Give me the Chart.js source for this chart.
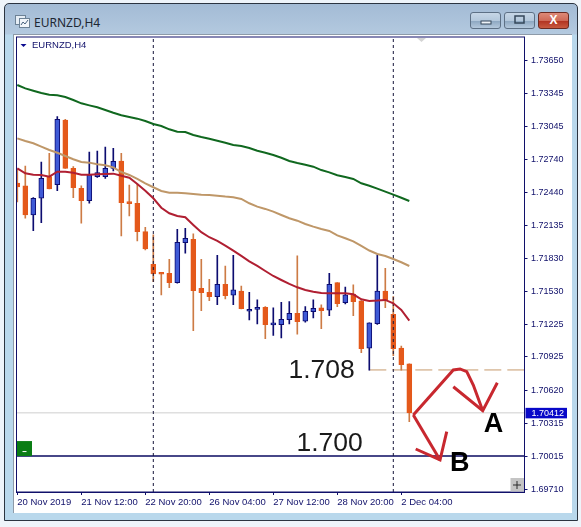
<!DOCTYPE html>
<html>
<head>
<meta charset="utf-8">
<title>EURNZD,H4</title>
<script src="https://cdn.jsdelivr.net/npm/chart.js@4"></script>
<style>
  html, body { margin: 0; padding: 0; background: #eef4fa; }
  #page { position: relative; width: 581px; height: 527px; overflow: hidden; font-family: "Liberation Sans", sans-serif; }
  #window { position: absolute; left: 4px; top: 3px; width: 574px; height: 518px; box-sizing: border-box; border: 1px solid #2b3440; border-radius: 5px 5px 0 0; background: linear-gradient(#a3bbd5 0, #b3c9df 30px, #b9d8ec 31px, #b9d8ec 100%); }
  #client { position: absolute; left: 13px; top: 34px; width: 559px; height: 479px; background: #fff; border-left: 1px solid #8d9aa8; border-top: 1px solid #8d9aa8; box-sizing: border-box; }
  #titletext { position: absolute; left: 34px; top: 14px; font: 12px "Noto Sans", sans-serif; color: #1d2733; }
  #icon { position: absolute; left: 15px; top: 15px; }
  .winbtn { position: absolute; top: 12px; height: 17px; width: 31px; box-sizing: border-box; border: 1px solid #5d7085; border-radius: 3px; background: linear-gradient(#c6d6e6 0, #b4c8dc 50%, #8ea8c2 55%, #b4c8dc 100%); text-align: center; }
  #btnclose { background: linear-gradient(#dd8a78 0, #cf6a58 50%, #b23422 55%, #c85a40 100%); border-color: #6a2a22; color: #fff; font: bold 12px/15px "Liberation Sans", sans-serif; }
  canvas { position: absolute; left: 0; top: 0; }
</style>
</head>
<body>
<div id="page">
  <div id="window"></div>
  <div id="client"></div>
  <svg id="icon" width="15" height="13"><rect x="0.5" y="0.5" width="10" height="9" fill="#e6eef6" stroke="#6d8296"/><rect x="4.5" y="3.5" width="10" height="9" fill="#f2f6fa" stroke="#6d8296"/><path d="M6 10l2-3 2 2 3-4" fill="none" stroke="#4a6480"/></svg>
  <div id="titletext">EURNZD,H4</div>
  <div class="winbtn" style="left:470px"><svg width="29" height="15"><rect x="10" y="8" width="10" height="3" fill="#eef3f8" stroke="#35475a"/></svg></div>
  <div class="winbtn" style="left:504px"><svg width="29" height="15"><rect x="10" y="3" width="9" height="7" fill="none" stroke="#35475a" stroke-width="1.5"/></svg></div>
  <div class="winbtn" id="btnclose" style="left:538px">X</div>
  <canvas id="myChart" width="581" height="527"></canvas>
</div>
<script>
const NAVY = '#10106a';
const TICK_LABELS = ['20 Nov 2019', '21 Nov 12:00', '22 Nov 20:00', '26 Nov 04:00', '27 Nov 12:00', '28 Nov 20:00', '2 Dec 04:00'];
const TICK_BARS = [0, 8, 16, 24, 32, 40, 48];
const PRICE_TICKS = [1.7365, 1.73345, 1.73045, 1.7274, 1.7244, 1.72135, 1.7183, 1.7153, 1.71225, 1.70925, 1.7062, 1.70315, 1.70015, 1.6971];

const opens = [1.72523, 1.72496, 1.72229, 1.72383, 1.72581, 1.72507, 1.73101, 1.72658, 1.72474, 1.72361,
  1.72581, 1.72581, 1.72658, 1.72725, 1.72349, 1.72337, 1.72076, 1.71777, 1.71697, 1.71694,
  1.71608, 1.71975, 1.72006, 1.71556, 1.7152, 1.71479, 1.71593, 1.71492, 1.71531, 1.71345,
  1.71363, 1.71382, 1.7122, 1.71222, 1.71267, 1.71326, 1.71253, 1.71341, 1.71376, 1.71354,
  1.71608, 1.71424, 1.71502, 1.7144, 1.71006, 1.71231, 1.71531, 1.71316, 1.71006, 1.70862];
const highs = [1.72652, 1.72679, 1.7239, 1.72716, 1.72796, 1.73132, 1.73108, 1.72673, 1.72496, 1.72808,
  1.72817, 1.72854, 1.72842, 1.72796, 1.72505, 1.72514, 1.72116, 1.72047, 1.71697, 1.71823,
  1.72097, 1.72107, 1.72056, 1.71823, 1.71639, 1.71859, 1.71761, 1.71859, 1.71577, 1.7152,
  1.71449, 1.71387, 1.71376, 1.71427, 1.71433, 1.71853, 1.71387, 1.71449, 1.71403, 1.71694,
  1.71608, 1.71566, 1.71587, 1.71443, 1.71238, 1.71862, 1.7174, 1.71479, 1.71026, 1.70862];
const lows = [1.72349, 1.72199, 1.72085, 1.72159, 1.72468, 1.72452, 1.72658, 1.72388, 1.72153, 1.72337,
  1.72575, 1.72566, 1.72634, 1.72036, 1.7222, 1.71991, 1.71908, 1.71617, 1.71495, 1.71562,
  1.71602, 1.71878, 1.71167, 1.71351, 1.71443, 1.71406, 1.71458, 1.71406, 1.71366, 1.71265,
  1.71229, 1.71094, 1.71124, 1.711, 1.71229, 1.71134, 1.71244, 1.71284, 1.71186, 1.71305,
  1.71387, 1.71412, 1.71305, 1.70965, 1.70804, 1.71225, 1.71378, 1.70938, 1.70804, 1.70331];
const closes = [1.72486, 1.72229, 1.72383, 1.72566, 1.72468, 1.73108, 1.72658, 1.7248, 1.72361, 1.72597,
  1.72618, 1.72658, 1.72722, 1.72342, 1.72333, 1.72076, 1.71917, 1.71688, 1.71685, 1.71608,
  1.71979, 1.72015, 1.71534, 1.71516, 1.71479, 1.71593, 1.71489, 1.71541, 1.71369, 1.71363,
  1.71382, 1.71222, 1.71226, 1.71271, 1.71326, 1.71249, 1.71345, 1.71372, 1.71351, 1.71593,
  1.71415, 1.71495, 1.71433, 1.71002, 1.71238, 1.71531, 1.71449, 1.71002, 1.70855, 1.70412];

const maSlow = [1.73423, 1.73392, 1.7337, 1.73349, 1.73334, 1.73328, 1.73313, 1.73285, 1.73255, 1.73236,
  1.73218, 1.73193, 1.73168, 1.73145, 1.73129, 1.73114, 1.73092, 1.73065, 1.73046, 1.73016,
  1.72994, 1.72991, 1.72964, 1.72945, 1.7293, 1.72911, 1.72893, 1.72872, 1.72863, 1.72844,
  1.7282, 1.72801, 1.7278, 1.72755, 1.72725, 1.72706, 1.72691, 1.72673, 1.72642, 1.72621,
  1.72594, 1.72578, 1.7256, 1.7252, 1.72498, 1.72471, 1.72444, 1.72416, 1.72388, 1.72358];
const maMid = [1.72933, 1.72909, 1.72888, 1.72857, 1.72826, 1.72801, 1.72771, 1.72741, 1.72716, 1.7271,
  1.72695, 1.72686, 1.72667, 1.72624, 1.72597, 1.7256, 1.7252, 1.72484, 1.7245, 1.72434,
  1.72434, 1.72429, 1.72422, 1.72416, 1.72413, 1.72407, 1.72398, 1.72392, 1.72377, 1.72337,
  1.72306, 1.72285, 1.7226, 1.72229, 1.72199, 1.72177, 1.72147, 1.72122, 1.72101, 1.72083,
  1.72042, 1.72016, 1.71987, 1.71945, 1.71903, 1.71871, 1.71853, 1.71825, 1.71795, 1.71761];
const maFast = [1.72658, 1.72612, 1.72599, 1.72597, 1.72581, 1.72627, 1.72627, 1.72618, 1.72599, 1.72599,
  1.72603, 1.72606, 1.72609, 1.7259, 1.72572, 1.72514, 1.72452, 1.72383, 1.72296, 1.72245,
  1.7222, 1.72208, 1.72138, 1.72071, 1.72025, 1.71991, 1.71948, 1.71902, 1.71853, 1.71804,
  1.71761, 1.71715, 1.71669, 1.71632, 1.71596, 1.71565, 1.71541, 1.71525, 1.71513, 1.7151,
  1.7151, 1.7151, 1.71501, 1.71455, 1.7144, 1.71443, 1.71449, 1.71418, 1.71357, 1.71259];

// hand drawn arrows, in bar number / price
const arrowAx = [49.5, 54.5, 55.34, 56.18, 57, 58.18];
const arrowAy = [1.70392, 1.70806, 1.70815, 1.70791, 1.70668, 1.70432];
const headAx = [54.5, 58.18, 60];
const headAy = [1.70652, 1.70432, 1.70689];
const arrowBx = [49.5, 52.84];
const arrowBy = [1.70392, 1.69979];
const headBx = [49.8, 52.84, 53.68];
const headBy = [1.7008, 1.69979, 1.70239];

const X_MIN = -0.1;
const X_MAX = 63.4;
const Y_MIN = 1.69685;
const Y_MAX = 1.73864;
const LAST_PRICE = 1.70412;
const TARGET_A = 1.70806;
const TARGET_B = 1.70015;
const SEPARATORS = [17, 47];

const decorations = {
  id: 'decorations',
  afterDatasetsDraw(chart) {
    const { ctx, chartArea: area, scales } = chart;
    const xAt = v => scales.x.getPixelForValue(v);
    const yAt = v => scales.y.getPixelForValue(v);

    ctx.save();
    ctx.strokeStyle = NAVY;
    ctx.lineWidth = 1;
    ctx.strokeRect(area.left, area.top, area.right - area.left, area.bottom - area.top);

    // chart name
    ctx.fillStyle = '#0c0c90';
    ctx.beginPath();
    ctx.moveTo(area.left + 4, area.top + 7);
    ctx.lineTo(area.left + 10, area.top + 7);
    ctx.lineTo(area.left + 7, area.top + 10);
    ctx.fill();
    ctx.fillStyle = NAVY;
    ctx.font = '9.5px "Liberation Sans"';
    ctx.textBaseline = 'middle';
    ctx.fillText('EURNZD,H4', area.left + 15.5, area.top + 8.5);

    // chart shift marker
    ctx.fillStyle = '#d4d4d4';
    ctx.beginPath();
    ctx.moveTo(417, area.top + 1);
    ctx.lineTo(426, area.top + 1);
    ctx.lineTo(421.5, area.top + 5);
    ctx.fill();

    // one click trading button
    const boxY = yAt(TARGET_B);
    ctx.fillStyle = '#0a7d14';
    ctx.fillRect(area.left + 0.5, boxY - 15, 15, 15);
    ctx.fillStyle = '#ffffff';
    ctx.fillRect(area.left + 6, boxY - 5, 4, 1);

    // zoom button
    ctx.fillStyle = '#c4c4c4';
    ctx.fillRect(area.right - 14, area.bottom - 14, 13.5, 13.5);
    ctx.fillStyle = '#2a2a2a';
    ctx.fillRect(area.right - 11.5, area.bottom - 7.5, 8, 1);
    ctx.fillRect(area.right - 8, area.bottom - 11, 1, 8);

    // last price box
    const lastY = yAt(LAST_PRICE);
    ctx.fillStyle = '#0808c8';
    ctx.fillRect(area.right + 1, lastY - 5, 41.5, 10.5);
    ctx.fillStyle = '#ffffff';
    ctx.font = '9px "Liberation Sans"';
    ctx.fillText(LAST_PRICE.toFixed(5), area.right + 7, lastY + 0.5);

    // notes on the picture
    ctx.fillStyle = '#1a1a1a';
    ctx.font = '26.5px "Liberation Sans"';
    ctx.textAlign = 'left';
    ctx.fillText('1.708', xAt(33.9), yAt(1.708));
    ctx.fillText('1.700', xAt(34.9), yAt(1.70132));
    ctx.fillStyle = '#000000';
    ctx.font = 'bold 27px "Liberation Sans"';
    ctx.fillText('A', xAt(58.3), yAt(1.70304));
    ctx.fillText('B', xAt(54.1), yAt(1.69948));
    ctx.restore();
  },
};

main();

function main() {
  const bars = closes.map((c, i) => i);

  const isUp = i => closes[i] >= opens[i];
  const wickColor = ctx => (isUp(ctx.dataIndex) ? '#0c0c70' : '#cd7b45');
  const bodyColor = ctx => (isUp(ctx.dataIndex) ? '#3f5ad6' : '#e4591b');
  const bodyBorder = ctx => (isUp(ctx.dataIndex) ? '#0c0c70' : '#e4591b');

  const datasets = [
    lineSet([{ x: X_MIN, y: LAST_PRICE }, { x: X_MAX, y: LAST_PRICE }], '#cfcfcf', 1, 9),
    lineSet([{ x: X_MIN, y: TARGET_B }, { x: X_MAX, y: TARGET_B }], '#0a0a60', 1.4, 8),
    lineSet([{ x: 44, y: TARGET_A }, { x: X_MAX, y: TARGET_A }], '#c79a6c', 1, 8, [17, 6]),
    {
      type: 'bar',
      data: bars.map(i => ({ x: i, y: [lows[i], highs[i]] })),
      backgroundColor: wickColor,
      barThickness: 1,
      grouped: false,
      order: 7,
    },
    {
      type: 'bar',
      data: bars.map(i => ({ x: i, y: [opens[i], closes[i]] })),
      backgroundColor: bodyColor,
      borderColor: bodyBorder,
      borderWidth: 1,
      borderSkipped: false,
      barThickness: 5,
      minBarLength: 2,
      grouped: false,
      order: 6,
    },
    lineSet(bars.map(i => ({ x: i, y: maSlow[i] })), '#10681f', 2, 3),
    lineSet(bars.map(i => ({ x: i, y: maMid[i] })), '#bf9768', 2, 3),
    lineSet(bars.map(i => ({ x: i, y: maFast[i] })), '#b01f32', 2, 2),
    lineSet(arrowAx.map((x, i) => ({ x, y: arrowAy[i] })), '#c8282f', 3, 1),
    lineSet(headAx.map((x, i) => ({ x, y: headAy[i] })), '#c8282f', 3, 1),
    lineSet(arrowBx.map((x, i) => ({ x, y: arrowBy[i] })), '#c8282f', 3, 1),
    lineSet(headBx.map((x, i) => ({ x, y: headBy[i] })), '#c8282f', 3, 1),
  ];
  SEPARATORS.forEach(x => {
    datasets.push(lineSet([{ x, y: Y_MIN }, { x, y: Y_MAX }], '#15153a', 1, 4, [3, 3]));
  });

  new Chart(document.getElementById('myChart'), {
    type: 'bar',
    data: { datasets },
    plugins: [decorations],
    options: {
      responsive: false,
      animation: false,
      layout: { padding: { left: 16.5, top: 37, right: 0.5, bottom: 0 } },
      plugins: { legend: { display: false }, tooltip: { enabled: false } },
      scales: {
        x: {
          type: 'linear',
          offset: false,
          min: X_MIN,
          max: X_MAX,
          afterBuildTicks: scale => {
            scale.ticks = TICK_BARS.map(value => ({ value }));
          },
          afterFit: scale => {
            scale.height = 35;
          },
          border: { color: NAVY },
          grid: { offset: false, drawOnChartArea: false, color: NAVY, tickLength: 3 },
          ticks: {
            align: 'start',
            autoSkip: false,
            maxRotation: 0,
            padding: 2,
            color: NAVY,
            font: { family: 'Liberation Sans', size: 9.5 },
            callback: value => TICK_LABELS[TICK_BARS.indexOf(value)],
          },
        },
        y: {
          position: 'right',
          min: Y_MIN,
          max: Y_MAX,
          afterBuildTicks: scale => {
            scale.ticks = PRICE_TICKS.map(value => ({ value }));
          },
          afterFit: scale => {
            scale.width = 56;
          },
          border: { color: NAVY },
          grid: { drawOnChartArea: false, color: NAVY, tickLength: 3 },
          ticks: {
            autoSkip: false,
            padding: 3.5,
            color: NAVY,
            font: { family: 'Liberation Sans', size: 9 },
            callback: value => value.toFixed(5),
          },
        },
      },
    },
  });
}

function lineSet(data, color, width, order, dash) {
  return {
    type: 'line',
    data,
    borderColor: color,
    borderWidth: width,
    borderDash: dash || [],
    pointRadius: 0,
    tension: 0,
    order,
  };
}
</script>
</body>
</html>
